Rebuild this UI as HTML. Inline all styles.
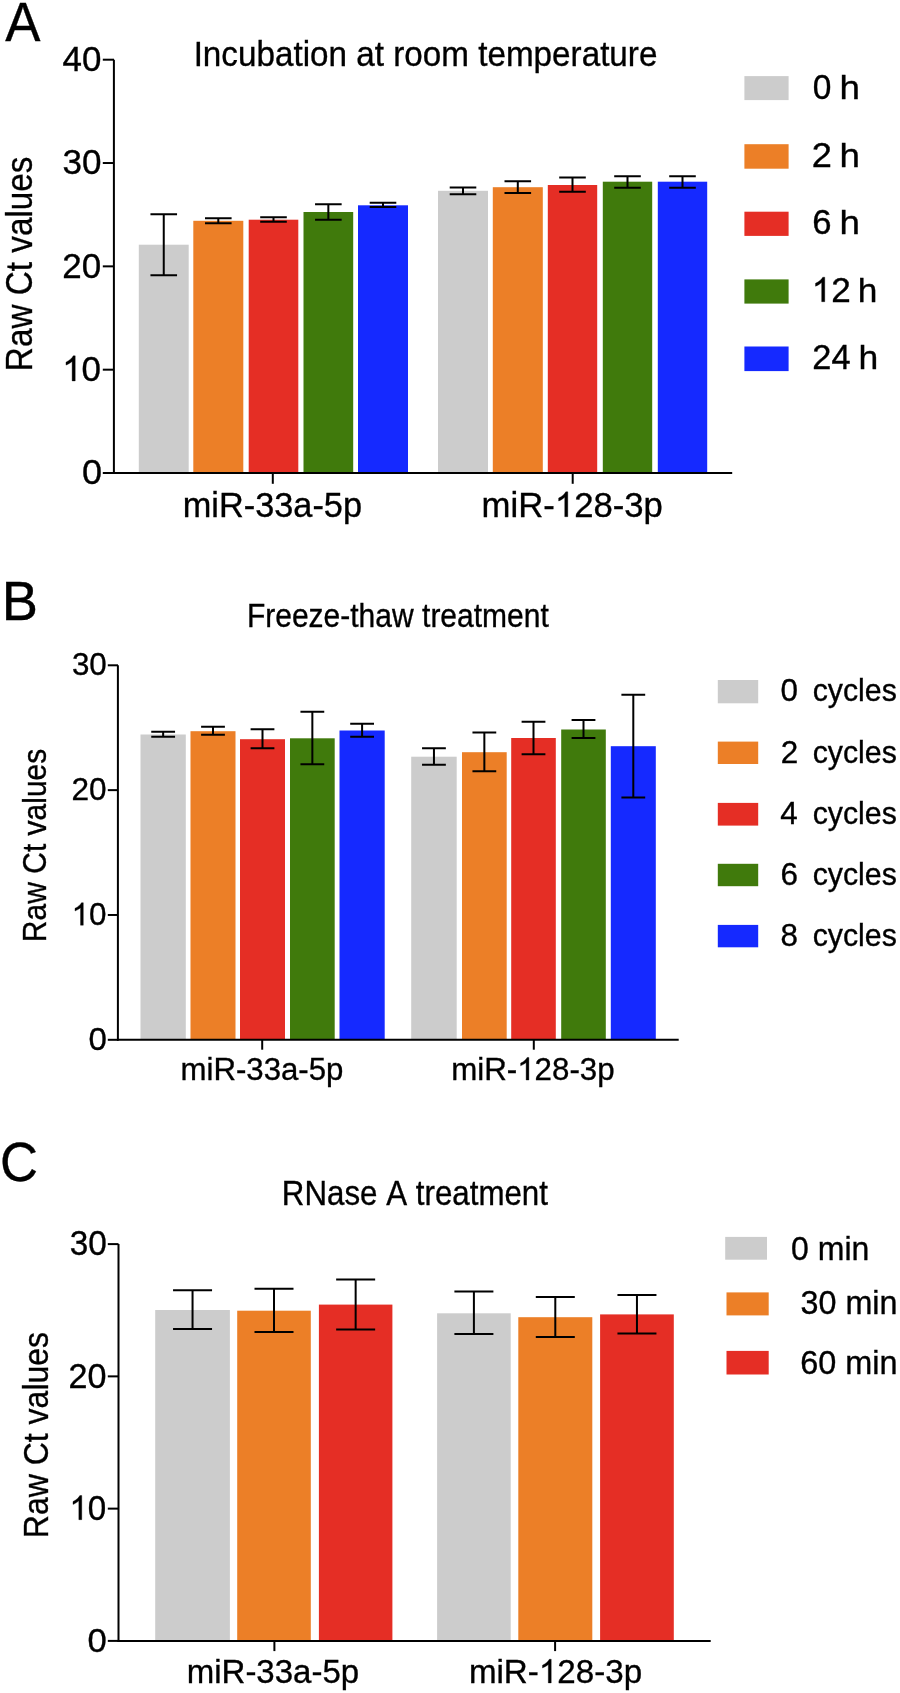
<!DOCTYPE html>
<html><head><meta charset="utf-8"><style>
html,body{margin:0;padding:0;background:#fff;}
body{width:900px;height:1693px;overflow:hidden;}
svg{display:block;will-change:transform;}
text{font-family:"Liberation Sans", sans-serif;font-kerning:none;} .tx{stroke:#000;stroke-width:0.35px;}
</style></head><body>
<svg width="900" height="1693" viewBox="0 0 900 1693" fill="#000">
<rect width="900" height="1693" fill="#fff"/>
<g class="tx" transform="translate(5.20,40.50) scale(0.9607,1)" font-size="54.94"><text x="0.00" y="0">A</text></g>
<g class="tx" transform="translate(193.63,65.50) scale(0.9374,1)" font-size="35.47"><text x="0.00" y="0">Incubation</text><text x="173.52" y="0">at</text><text x="212.95" y="0">room</text><text x="303.61" y="0">temperature</text></g>
<g class="tx" transform="translate(31.90,371.13) rotate(-90) scale(0.8982,1)" font-size="37.06"><text x="0.00" y="0">Raw</text><text x="84.44" y="0">Ct</text><text x="131.81" y="0">values</text></g>
<rect x="138.80" y="244.70" width="49.90" height="228.30" fill="#cccccc"/>
<rect x="193.30" y="220.80" width="50.00" height="252.20" fill="#ec7f27"/>
<rect x="248.70" y="219.70" width="49.60" height="253.30" fill="#e52e25"/>
<rect x="303.50" y="212.00" width="49.70" height="261.00" fill="#407a0c"/>
<rect x="358.00" y="205.30" width="50.00" height="267.70" fill="#1529ff"/>
<rect x="438.00" y="190.80" width="50.00" height="282.20" fill="#cccccc"/>
<rect x="492.80" y="187.20" width="50.00" height="285.80" fill="#ec7f27"/>
<rect x="547.80" y="185.00" width="49.40" height="288.00" fill="#e52e25"/>
<rect x="602.80" y="181.70" width="49.40" height="291.30" fill="#407a0c"/>
<rect x="657.80" y="181.70" width="49.40" height="291.30" fill="#1529ff"/>
<path d="M150.45 214.30H177.05M163.75 214.30V275.30M150.45 275.30H177.05" stroke="#000" stroke-width="2" fill="none"/>
<path d="M205.00 218.30H231.60M218.30 218.30V223.30M205.00 223.30H231.60" stroke="#000" stroke-width="2" fill="none"/>
<path d="M260.20 217.20H286.80M273.50 217.20V221.70M260.20 221.70H286.80" stroke="#000" stroke-width="2" fill="none"/>
<path d="M315.05 204.20H341.65M328.35 204.20V219.70M315.05 219.70H341.65" stroke="#000" stroke-width="2" fill="none"/>
<path d="M369.70 202.80H396.30M383.00 202.80V207.00M369.70 207.00H396.30" stroke="#000" stroke-width="2" fill="none"/>
<path d="M449.70 187.50H476.30M463.00 187.50V194.20M449.70 194.20H476.30" stroke="#000" stroke-width="2" fill="none"/>
<path d="M504.50 181.30H531.10M517.80 181.30V193.00M504.50 193.00H531.10" stroke="#000" stroke-width="2" fill="none"/>
<path d="M559.20 177.50H585.80M572.50 177.50V191.70M559.20 191.70H585.80" stroke="#000" stroke-width="2" fill="none"/>
<path d="M614.20 176.20H640.80M627.50 176.20V187.70M614.20 187.70H640.80" stroke="#000" stroke-width="2" fill="none"/>
<path d="M669.20 176.20H695.80M682.50 176.20V187.70M669.20 187.70H695.80" stroke="#000" stroke-width="2" fill="none"/>
<path d="M113.9 59.7V474.00" stroke="#000" stroke-width="2" fill="none"/>
<path d="M113 473.0H732.2" stroke="#000" stroke-width="2" fill="none"/>
<path d="M102.8 59.70H114" stroke="#000" stroke-width="2" fill="none"/>
<path d="M102.8 163.03H114" stroke="#000" stroke-width="2" fill="none"/>
<path d="M102.8 266.35H114" stroke="#000" stroke-width="2" fill="none"/>
<path d="M102.8 369.68H114" stroke="#000" stroke-width="2" fill="none"/>
<path d="M102.8 473.00H114" stroke="#000" stroke-width="2" fill="none"/>
<path d="M272.8 473.0V483.8" stroke="#000" stroke-width="2" fill="none"/>
<path d="M572.7 473.0V483.8" stroke="#000" stroke-width="2" fill="none"/>
<g class="tx" transform="translate(62.50,70.95) scale(0.9740,1)" font-size="35.88"><text x="0.00" y="0">40</text></g>
<g class="tx" transform="translate(62.56,174.27) scale(0.9775,1)" font-size="35.88"><text x="0.00" y="0">30</text></g>
<g class="tx" transform="translate(62.24,277.60) scale(0.9755,1)" font-size="35.88"><text x="0.00" y="0">20</text></g>
<g class="tx" transform="translate(62.19,380.92) scale(0.9741,1)" font-size="35.88"><path vector-effect="non-scaling-stroke" transform="translate(0.00,0) scale(0.01752,-0.01752)" d="M763 0L583 0L583 1114Q518 1054 413 994Q307 934 223 903L223 1072Q374 1141 487 1240Q600 1338 647 1430L763 1430Z"/><text x="19.95" y="0">0</text></g>
<g class="tx" transform="translate(81.89,484.25) scale(1.0030,1)" font-size="35.88"><text x="0.00" y="0">0</text></g>
<g class="tx" transform="translate(182.72,516.70) scale(0.9639,1)" font-size="35.61"><text x="0.00" y="0">miR-33a-5p</text></g>
<g class="tx" transform="translate(481.59,516.70) scale(0.9749,1)" font-size="35.61"><text x="0.00" y="0">miR-</text><path vector-effect="non-scaling-stroke" transform="translate(75.15,0) scale(0.01739,-0.01739)" d="M763 0L583 0L583 1114Q518 1054 413 994Q307 934 223 903L223 1072Q374 1141 487 1240Q600 1338 647 1430L763 1430Z"/><text x="94.96" y="0">28-3p</text></g>
<rect x="744.40" y="76.10" width="44.20" height="24.00" fill="#cccccc"/>
<g class="tx" transform="translate(812.69,99.20) scale(0.9539,1)" font-size="35.09"><text x="0.00" y="0">0</text></g>
<g class="tx" transform="translate(839.45,99.20) scale(1.0866,1)" font-size="33.81"><text x="0.00" y="0">h</text></g>
<rect x="744.40" y="144.20" width="44.20" height="24.50" fill="#ec7f27"/>
<g class="tx" transform="translate(811.68,166.70) scale(1.0322,1)" font-size="35.09"><text x="0.00" y="0">2</text></g>
<g class="tx" transform="translate(839.45,166.70) scale(1.0866,1)" font-size="33.81"><text x="0.00" y="0">h</text></g>
<rect x="744.40" y="211.70" width="44.20" height="24.20" fill="#e52e25"/>
<g class="tx" transform="translate(812.24,234.20) scale(0.9882,1)" font-size="35.09"><text x="0.00" y="0">6</text></g>
<g class="tx" transform="translate(839.45,234.20) scale(1.0866,1)" font-size="33.81"><text x="0.00" y="0">h</text></g>
<rect x="744.40" y="279.40" width="44.20" height="24.20" fill="#407a0c"/>
<g class="tx" transform="translate(811.67,301.70) scale(1.0017,1)" font-size="35.09"><path vector-effect="non-scaling-stroke" transform="translate(0.00,0) scale(0.01713,-0.01713)" d="M763 0L583 0L583 1114Q518 1054 413 994Q307 934 223 903L223 1072Q374 1141 487 1240Q600 1338 647 1430L763 1430Z"/><text x="19.51" y="0">2</text></g>
<g class="tx" transform="translate(857.85,301.70) scale(1.0446,1)" font-size="33.81"><text x="0.00" y="0">h</text></g>
<rect x="744.40" y="346.50" width="44.20" height="24.60" fill="#1529ff"/>
<g class="tx" transform="translate(812.27,369.20) scale(0.9797,1)" font-size="35.09"><text x="0.00" y="0">24</text></g>
<g class="tx" transform="translate(858.53,369.20) scale(1.0516,1)" font-size="33.81"><text x="0.00" y="0">h</text></g>
<g class="tx" transform="translate(1.85,619.70) scale(0.9909,1)" font-size="54.80"><text x="0.00" y="0">B</text></g>
<g class="tx" transform="translate(246.94,626.70) scale(0.9258,1)" font-size="32.41"><text x="0.00" y="0">Freeze-thaw</text><text x="189.15" y="0">treatment</text></g>
<g class="tx" transform="translate(45.60,942.16) rotate(-90) scale(0.9099,1)" font-size="32.99"><text x="0.00" y="0">Raw</text><text x="75.17" y="0">Ct</text><text x="117.33" y="0">values</text></g>
<rect x="140.50" y="734.50" width="45.30" height="305.30" fill="#cccccc"/>
<rect x="190.50" y="731.20" width="45.00" height="308.60" fill="#ec7f27"/>
<rect x="240.00" y="739.20" width="45.00" height="300.60" fill="#e52e25"/>
<rect x="290.00" y="738.30" width="44.70" height="301.50" fill="#407a0c"/>
<rect x="339.50" y="730.50" width="45.20" height="309.30" fill="#1529ff"/>
<rect x="411.20" y="756.70" width="45.50" height="283.10" fill="#cccccc"/>
<rect x="462.00" y="752.20" width="44.70" height="287.60" fill="#ec7f27"/>
<rect x="511.20" y="738.00" width="44.60" height="301.80" fill="#e52e25"/>
<rect x="561.20" y="729.50" width="44.60" height="310.30" fill="#407a0c"/>
<rect x="610.80" y="746.20" width="45.00" height="293.60" fill="#1529ff"/>
<path d="M151.25 731.70H175.05M163.15 731.70V736.70M151.25 736.70H175.05" stroke="#000" stroke-width="2" fill="none"/>
<path d="M201.10 726.70H224.90M213.00 726.70V734.70M201.10 734.70H224.90" stroke="#000" stroke-width="2" fill="none"/>
<path d="M250.60 729.20H274.40M262.50 729.20V748.30M250.60 748.30H274.40" stroke="#000" stroke-width="2" fill="none"/>
<path d="M300.45 711.70H324.25M312.35 711.70V764.20M300.45 764.20H324.25" stroke="#000" stroke-width="2" fill="none"/>
<path d="M350.20 723.80H374.00M362.10 723.80V736.70M350.20 736.70H374.00" stroke="#000" stroke-width="2" fill="none"/>
<path d="M422.05 748.30H445.85M433.95 748.30V764.70M422.05 764.70H445.85" stroke="#000" stroke-width="2" fill="none"/>
<path d="M472.45 732.50H496.25M484.35 732.50V771.30M472.45 771.30H496.25" stroke="#000" stroke-width="2" fill="none"/>
<path d="M521.60 721.70H545.40M533.50 721.70V754.20M521.60 754.20H545.40" stroke="#000" stroke-width="2" fill="none"/>
<path d="M571.60 720.00H595.40M583.50 720.00V738.00M571.60 738.00H595.40" stroke="#000" stroke-width="2" fill="none"/>
<path d="M621.40 694.70H645.20M633.30 694.70V797.50M621.40 797.50H645.20" stroke="#000" stroke-width="2" fill="none"/>
<path d="M117.9 665.3V1040.80" stroke="#000" stroke-width="2" fill="none"/>
<path d="M117 1039.8H678.7" stroke="#000" stroke-width="2" fill="none"/>
<path d="M107.8 665.30H118" stroke="#000" stroke-width="2" fill="none"/>
<path d="M107.8 790.13H118" stroke="#000" stroke-width="2" fill="none"/>
<path d="M107.8 914.97H118" stroke="#000" stroke-width="2" fill="none"/>
<path d="M107.8 1039.80H118" stroke="#000" stroke-width="2" fill="none"/>
<path d="M262.2 1039.8V1049.7" stroke="#000" stroke-width="2" fill="none"/>
<path d="M533.8 1039.8V1049.7" stroke="#000" stroke-width="2" fill="none"/>
<g class="tx" transform="translate(71.90,675.29) scale(0.9749,1)" font-size="32.20"><text x="0.00" y="0">30</text></g>
<g class="tx" transform="translate(71.41,800.39) scale(0.9848,1)" font-size="32.06"><text x="0.00" y="0">20</text></g>
<g class="tx" transform="translate(71.58,925.19) scale(0.9757,1)" font-size="32.20"><path vector-effect="non-scaling-stroke" transform="translate(0.00,0) scale(0.01572,-0.01572)" d="M763 0L583 0L583 1114Q518 1054 413 994Q307 934 223 903L223 1072Q374 1141 487 1240Q600 1338 647 1430L763 1430Z"/><text x="17.91" y="0">0</text></g>
<g class="tx" transform="translate(88.51,1049.69) scale(1.0264,1)" font-size="32.20"><text x="0.00" y="0">0</text></g>
<g class="tx" transform="translate(180.53,1080.00) scale(0.9668,1)" font-size="32.27"><text x="0.00" y="0">miR-33a-5p</text></g>
<g class="tx" transform="translate(451.22,1080.00) scale(0.9693,1)" font-size="32.27"><text x="0.00" y="0">miR-</text><path vector-effect="non-scaling-stroke" transform="translate(68.10,0) scale(0.01576,-0.01576)" d="M763 0L583 0L583 1114Q518 1054 413 994Q307 934 223 903L223 1072Q374 1141 487 1240Q600 1338 647 1430L763 1430Z"/><text x="86.04" y="0">28-3p</text></g>
<rect x="717.80" y="680.00" width="40.40" height="23.30" fill="#cccccc"/>
<g class="tx" transform="translate(780.46,701.40) scale(1.0000,1)" font-size="31.40"><text x="0.00" y="0">0</text></g>
<g class="tx" transform="translate(812.71,701.40) scale(0.9476,1)" font-size="31.94"><text x="0.00" y="0">cycles</text></g>
<rect x="717.80" y="741.60" width="40.40" height="22.40" fill="#ec7f27"/>
<g class="tx" transform="translate(780.82,762.60) scale(1.0000,1)" font-size="31.40"><text x="0.00" y="0">2</text></g>
<g class="tx" transform="translate(812.71,762.60) scale(0.9476,1)" font-size="31.94"><text x="0.00" y="0">cycles</text></g>
<rect x="717.80" y="802.90" width="40.40" height="22.70" fill="#e52e25"/>
<g class="tx" transform="translate(780.16,823.80) scale(1.0000,1)" font-size="31.40"><text x="0.00" y="0">4</text></g>
<g class="tx" transform="translate(812.71,823.80) scale(0.9476,1)" font-size="31.94"><text x="0.00" y="0">cycles</text></g>
<rect x="717.80" y="863.80" width="40.40" height="22.40" fill="#407a0c"/>
<g class="tx" transform="translate(780.62,885.00) scale(1.0000,1)" font-size="31.40"><text x="0.00" y="0">6</text></g>
<g class="tx" transform="translate(812.71,885.00) scale(0.9476,1)" font-size="31.94"><text x="0.00" y="0">cycles</text></g>
<rect x="717.80" y="924.90" width="40.40" height="22.40" fill="#1529ff"/>
<g class="tx" transform="translate(780.60,946.20) scale(1.0000,1)" font-size="31.40"><text x="0.00" y="0">8</text></g>
<g class="tx" transform="translate(812.71,946.20) scale(0.9476,1)" font-size="31.94"><text x="0.00" y="0">cycles</text></g>
<g class="tx" transform="translate(0.03,1180.76) scale(0.9595,1)" font-size="54.80"><text x="0.00" y="0">C</text></g>
<g class="tx" transform="translate(281.83,1205.20) scale(0.9165,1)" font-size="34.16"><text x="0.00" y="0">RNase</text><text x="113.90" y="0">A</text><text x="146.17" y="0">treatment</text></g>
<g class="tx" transform="translate(47.60,1538.23) rotate(-90) scale(0.9139,1)" font-size="35.03"><text x="0.00" y="0">Raw</text><text x="79.81" y="0">Ct</text><text x="124.57" y="0">values</text></g>
<rect x="155.20" y="1310.00" width="74.70" height="330.90" fill="#cccccc"/>
<rect x="237.20" y="1310.70" width="73.60" height="330.20" fill="#ec7f27"/>
<rect x="318.90" y="1304.60" width="73.50" height="336.30" fill="#e52e25"/>
<rect x="437.10" y="1313.30" width="73.60" height="327.60" fill="#cccccc"/>
<rect x="518.30" y="1317.20" width="74.00" height="323.70" fill="#ec7f27"/>
<rect x="600.10" y="1314.40" width="73.70" height="326.50" fill="#e52e25"/>
<path d="M173.05 1290.20H212.05M192.55 1290.20V1329.10M173.05 1329.10H212.05" stroke="#000" stroke-width="2" fill="none"/>
<path d="M254.50 1288.70H293.50M274.00 1288.70V1331.90M254.50 1331.90H293.50" stroke="#000" stroke-width="2" fill="none"/>
<path d="M336.15 1279.40H375.15M355.65 1279.40V1329.40M336.15 1329.40H375.15" stroke="#000" stroke-width="2" fill="none"/>
<path d="M454.40 1291.40H493.40M473.90 1291.40V1333.90M454.40 1333.90H493.40" stroke="#000" stroke-width="2" fill="none"/>
<path d="M535.80 1296.90H574.80M555.30 1296.90V1337.00M535.80 1337.00H574.80" stroke="#000" stroke-width="2" fill="none"/>
<path d="M617.45 1295.00H656.45M636.95 1295.00V1333.40M617.45 1333.40H656.45" stroke="#000" stroke-width="2" fill="none"/>
<path d="M118.5 1244.1V1641.90" stroke="#000" stroke-width="2" fill="none"/>
<path d="M117.5 1640.9H710.7" stroke="#000" stroke-width="2" fill="none"/>
<path d="M107.8 1244.10H118.5" stroke="#000" stroke-width="2" fill="none"/>
<path d="M107.8 1376.37H118.5" stroke="#000" stroke-width="2" fill="none"/>
<path d="M107.8 1508.63H118.5" stroke="#000" stroke-width="2" fill="none"/>
<path d="M107.8 1640.90H118.5" stroke="#000" stroke-width="2" fill="none"/>
<path d="M274.4 1640.9V1651.1" stroke="#000" stroke-width="2" fill="none"/>
<path d="M555.1 1640.9V1651.1" stroke="#000" stroke-width="2" fill="none"/>
<g class="tx" transform="translate(69.83,1255.46) scale(0.9553,1)" font-size="34.89"><text x="0.00" y="0">30</text></g>
<g class="tx" transform="translate(68.58,1387.56) scale(0.9900,1)" font-size="34.46"><text x="0.00" y="0">20</text></g>
<g class="tx" transform="translate(69.39,1519.66) scale(0.9589,1)" font-size="34.60"><path vector-effect="non-scaling-stroke" transform="translate(0.00,0) scale(0.01690,-0.01690)" d="M763 0L583 0L583 1114Q518 1054 413 994Q307 934 223 903L223 1072Q374 1141 487 1240Q600 1338 647 1430L763 1430Z"/><text x="19.25" y="0">0</text></g>
<g class="tx" transform="translate(87.44,1651.77) scale(1.0202,1)" font-size="34.04"><text x="0.00" y="0">0</text></g>
<g class="tx" transform="translate(186.71,1682.90) scale(0.9749,1)" font-size="33.87"><text x="0.00" y="0">miR-33a-5p</text></g>
<g class="tx" transform="translate(468.90,1682.90) scale(0.9789,1)" font-size="33.87"><text x="0.00" y="0">miR-</text><path vector-effect="non-scaling-stroke" transform="translate(71.47,0) scale(0.01654,-0.01654)" d="M763 0L583 0L583 1114Q518 1054 413 994Q307 934 223 903L223 1072Q374 1141 487 1240Q600 1338 647 1430L763 1430Z"/><text x="90.31" y="0">28-3p</text></g>
<rect x="725.20" y="1236.90" width="41.80" height="22.80" fill="#cccccc"/>
<rect x="726.50" y="1292.40" width="42.20" height="23.00" fill="#ec7f27"/>
<rect x="726.50" y="1350.90" width="42.20" height="23.60" fill="#e52e25"/>
<g class="tx" transform="translate(791.05,1259.50) scale(0.9438,1)" font-size="33.94"><text x="0.00" y="0">0</text><text x="28.31" y="0">min</text></g>
<g class="tx" transform="translate(800.57,1314.40) scale(0.9977,1)" font-size="32.37"><text x="0.00" y="0">30</text><text x="44.99" y="0">min</text></g>
<g class="tx" transform="translate(800.15,1373.50) scale(1.0021,1)" font-size="32.37"><text x="0.00" y="0">60</text><text x="44.99" y="0">min</text></g>
</svg>
</body></html>
